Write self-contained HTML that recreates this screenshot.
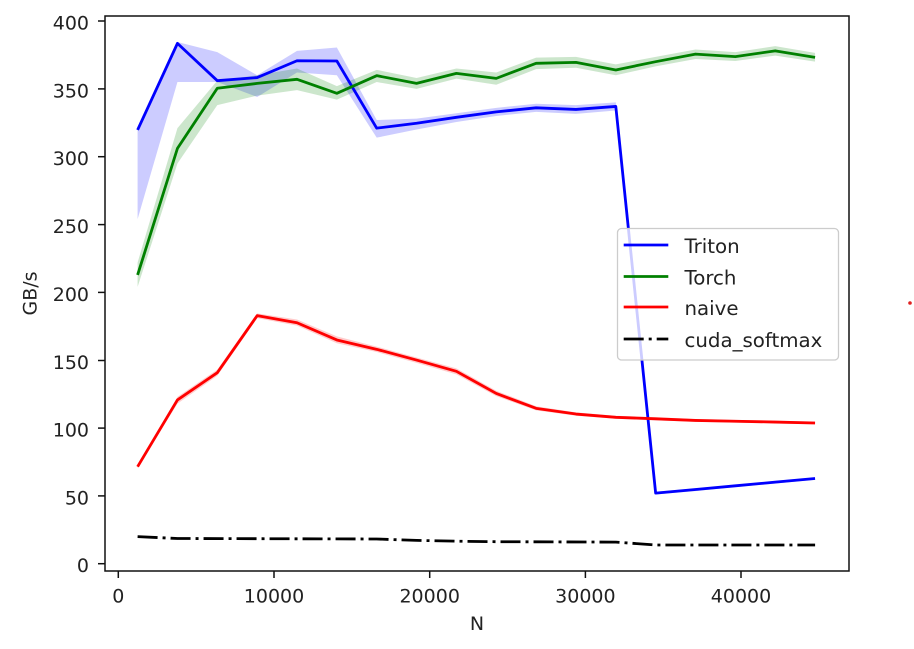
<!DOCTYPE html>
<html><head><meta charset="utf-8"><style>
html,body{margin:0;padding:0;background:#fff;}
svg{display:block;}
text{font-family:"DejaVu Sans","Liberation Sans",sans-serif;fill:#222;}
</style></head><body>
<svg width="914" height="649" viewBox="0 0 914 649" xmlns="http://www.w3.org/2000/svg">
<defs><clipPath id="ax"><rect x="105" y="16" width="744" height="555"/></clipPath></defs>
<rect width="914" height="649" fill="#fff"/>
<g clip-path="url(#ax)">
<g transform="translate(137.6,563.7) scale(39.85,-1.3568)">
<path fill="rgba(0,0,255,0.2)" stroke="none" d="M0,320.5 L1,384.5 L2,377 L3,360 L4,378 L5,380.5 L6,327 L7,328 L8,332 L9,336 L10,339 L11,338 L12,340 L13,53 L14,55.5 L15,58 L16,61 L17,63.5 L17,62 L16,59 L15,56.5 L14,53.5 L13,51 L12,334 L11,331.5 L10,333 L9,330 L8,325.5 L7,320 L6,314 L5,360 L4,362 L3,344 L2,355 L1,355 L0,254 Z"/>
<path fill="rgba(0,128,0,0.2)" stroke="none" d="M0,222 L1,321 L2,356 L3,360 L4,365 L5,352 L6,364 L7,358 L8,365 L9,362 L10,373 L11,373.5 L12,368 L13,373.5 L14,379 L15,377 L16,381.5 L17,376.5 L17,370 L16,374.5 L15,370.5 L14,372 L13,366.5 L12,360 L11,365.5 L10,364.5 L9,353 L8,357.5 L7,350 L6,355 L5,342 L4,349 L3,345 L2,338 L1,295 L0,204 Z"/>
<path fill="rgba(255,0,0,0.2)" stroke="none" d="M0,72.5 L1,123 L2,143 L3,184.5 L4,180 L5,167.5 L6,160 L7,152 L8,144 L9,127.5 L10,116 L11,111.5 L12,109 L13,108 L14,106.6 L15,106 L16,105.4 L17,104.7 L17,102.7 L16,103.4 L15,104 L14,104.6 L13,105.6 L12,106.8 L11,109 L10,113 L9,123.5 L8,139.5 L7,148 L6,156 L5,162.5 L4,175.5 L3,181 L2,138.5 L1,118 L0,70.5 Z"/>
<polyline fill="none" stroke="#0000ff" stroke-width="2.8" stroke-linejoin="round" vector-effect="non-scaling-stroke" points="0,319.7 1,383.5 2,356 3,358.3 4,370.7 5,370.5 6,321 7,324.6 8,329 9,333 10,336 11,334.8 12,337 13,52 14,54.7 15,57.4 16,60.1 17,62.8"/>
<polyline fill="none" stroke="#008000" stroke-width="2.8" stroke-linejoin="round" vector-effect="non-scaling-stroke" points="0,212.8 1,306.1 2,350.4 3,354 4,357 5,346.7 6,359.7 7,354 8,361.4 9,357.7 10,368.8 11,369.5 12,363.9 13,370 14,375.6 15,373.7 16,378 17,373.2"/>
<polyline fill="none" stroke="#ff0000" stroke-width="2.8" stroke-linejoin="round" vector-effect="non-scaling-stroke" points="0,71.5 1,120.7 2,140.8 3,182.8 4,177.6 5,164.9 6,158 7,150.1 8,141.8 9,125.5 10,114.5 11,110.3 12,107.9 13,106.8 14,105.6 15,105 16,104.4 17,103.7"/>
</g>
<polyline fill="none" stroke="#000" stroke-width="2.8" stroke-dasharray="20,5,3,5" points="137.6,536.6 177.45,538.5 376.7,539 416.6,540.4 456.4,541.2 496.3,541.7 616,542.1 655.7,545 815.1,545"/>
</g>
<rect x="105" y="16" width="744" height="555" fill="none" stroke="#111" stroke-width="1.5"/>
<g stroke="#111" stroke-width="1.5">
<line x1="98" y1="563.7" x2="105" y2="563.7"/>
<line x1="98" y1="495.9" x2="105" y2="495.9"/>
<line x1="98" y1="428.1" x2="105" y2="428.1"/>
<line x1="98" y1="360.5" x2="105" y2="360.5"/>
<line x1="98" y1="292.4" x2="105" y2="292.4"/>
<line x1="98" y1="224.6" x2="105" y2="224.6"/>
<line x1="98" y1="156.7" x2="105" y2="156.7"/>
<line x1="98" y1="88.9" x2="105" y2="88.9"/>
<line x1="98" y1="21" x2="105" y2="21"/>
<line x1="118.3" y1="571" x2="118.3" y2="578"/>
<line x1="274" y1="571" x2="274" y2="578"/>
<line x1="429.7" y1="571" x2="429.7" y2="578"/>
<line x1="585.4" y1="571" x2="585.4" y2="578"/>
<line x1="741" y1="571" x2="741" y2="578"/>
</g>
<g font-size="19" text-anchor="end">
<text x="89" y="572">0</text>
<text x="89" y="504.4">50</text>
<text x="89" y="436.6">100</text>
<text x="89" y="369">150</text>
<text x="89" y="300.9">200</text>
<text x="89" y="233.1">250</text>
<text x="89" y="165.2">300</text>
<text x="89" y="97.4">350</text>
<text x="89" y="29.5">400</text>
</g>
<g font-size="19" text-anchor="middle">
<text x="118.3" y="602.5">0</text>
<text x="274" y="602.5">10000</text>
<text x="429.7" y="602.5">20000</text>
<text x="585.4" y="602.5">30000</text>
<text x="741" y="602.5">40000</text>
<text x="477" y="630">N</text>
<text transform="translate(36.5,293.5) rotate(-90)" x="0" y="0">GB/s</text>
</g>
<rect x="617.5" y="228.5" width="221" height="131.5" rx="4" ry="4" fill="rgba(255,255,255,0.8)" stroke="#cccccc" stroke-width="1.3"/>
<line x1="623.7" y1="245" x2="668.3" y2="245" stroke="#0000ff" stroke-width="2.8"/>
<line x1="623.7" y1="276.5" x2="668.3" y2="276.5" stroke="#008000" stroke-width="2.8"/>
<line x1="623.7" y1="307" x2="668.3" y2="307" stroke="#ff0000" stroke-width="2.8"/>
<line x1="623.7" y1="339" x2="668.3" y2="339" stroke="#000" stroke-width="2.8" stroke-dasharray="20,5,3,5"/>
<g font-size="19.8">
<text x="684.5" y="253">Triton</text>
<text x="684.5" y="284.5">Torch</text>
<text x="684.5" y="315">naive</text>
<text x="684.5" y="347">cuda_softmax</text>
</g>
<circle cx="910" cy="303" r="1.8" fill="#e02020"/>
</svg>
</body></html>
